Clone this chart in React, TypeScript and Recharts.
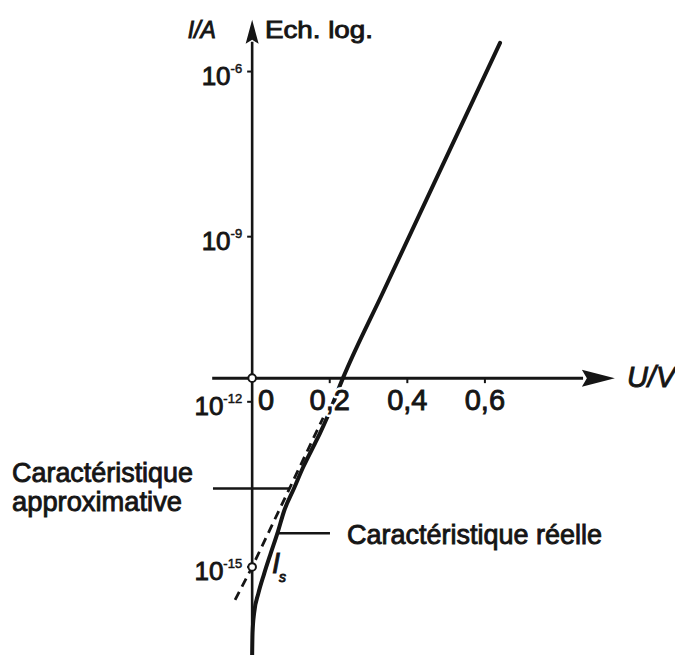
import { ComposedChart, Line, Scatter, XAxis, YAxis } from "recharts";

// Diode characteristic, U in volts, current as log10(I / A)
const realU = [0.0, 0.001, 0.005, 0.016, 0.031, 0.048, 0.065, 0.083, 0.108, 0.132, 0.153, 0.175, 0.196, 0.234, 0.338, 0.471, 0.571, 0.639];
const realLogI = [-16.6, -16.2, -15.84, -15.48, -15.12, -14.75, -14.39, -13.97, -13.57, -13.18, -12.88, -12.57, -12.24, -11.57, -10.0, -8.0, -6.5, -5.48];

// straight-line approximation I = Is * exp(U / nUT)
const approxU = [-0.044, 0, 0.183];
const approxLogI = [-15.6, -15, -12.29];

const uTicks = [0, 0.2, 0.4, 0.6];
const uTickLabels = ["0", "0,2", "0,4", "0,6"];
const iDecades = [-6, -9, -12, -15];
const iDecadeLabels = ["-6", "-9", "-12", "-15"];

const IS_LOG = -15; // Is = 1e-15 A
const U_AXIS_AT = -11.57; // current level where the U axis is drawn

const U_DOMAIN: [number, number] = [-0.65, 1.09];
const I_DOMAIN: [number, number] = [-16.6, -4.7];

const zip = (us: number[], ls: number[]) => us.map((u, i) => ({ u, l: ls[i] }));
const real = zip(realU, realLogI);
const approx = zip(approxU, approxLogI);

// axes with arrow heads
const iAxis = [{ u: 0, l: I_DOMAIN[0] }, { u: 0, l: -5.46 }];
const iArrow = [{ u: 0, l: -5.06 }];
const uAxis = [{ u: -0.103, l: U_AXIS_AT }, { u: 0.853, l: U_AXIS_AT }];
const uArrow = [{ u: 0.935, l: U_AXIS_AT }];

const uTickData = uTicks.map((u, i) => ({ u, l: U_AXIS_AT, label: uTickLabels[i] }));
const iTickData = iDecades.map((l, i) => ({ u: 0, l, label: iDecadeLabels[i] }));

// leader lines for the two captions
const approxLeader = [{ u: -0.101, l: -13.575 }, { u: 0.097, l: -13.575 }];
const realLeader = [{ u: 0.065, l: -14.39 }, { u: 0.2006, l: -14.39 }];

const FONT = "'Liberation Sans', Arial, Helvetica, sans-serif";
const INK = "#151515";

const textStyle = { fontFamily: FONT, fill: INK, stroke: INK, strokeWidth: 0.9 };

const ArrowUp = ({ cx, cy }: any) => (
  <polygon points={`${cx},${cy} ${cx + 6.5},${cy + 24} ${cx},${cy + 20} ${cx - 6.5},${cy + 24}`} fill={INK} />
);

const ArrowRight = ({ cx, cy }: any) => (
  <polygon points={`${cx},${cy} ${cx - 33},${cy - 8.5} ${cx - 28},${cy} ${cx - 33},${cy + 8.5}`} fill={INK} />
);

const UTick = ({ cx, cy, payload }: any) => {
  const zero = payload.u === 0;
  const x = zero ? cx + 14 : cx;
  return (
    <g>
      {!zero && <line x1={cx} y1={cy} x2={cx} y2={cy + 5} stroke={INK} strokeWidth={2} />}
      <text x={x} y={cy + 32} textAnchor="middle" fontSize={29} fontFamily={FONT}
        fill="#fff" stroke="#fff" strokeWidth={6} strokeLinejoin="round">{payload.label}</text>
      <text x={x} y={cy + 32} textAnchor="middle" fontSize={29} {...textStyle}>{payload.label}</text>
    </g>
  );
};

const ITick = ({ cx, cy, payload }: any) => (
  <g>
    <line x1={cx - 5} y1={cy} x2={cx} y2={cy} stroke={INK} strokeWidth={2} />
    <text x={cx - 10} y={cy + 13} textAnchor="end" {...textStyle}>
      <tspan fontSize={26}>10</tspan>
      <tspan fontSize={13} dy={-12} strokeWidth={0.5}>{payload.label}</tspan>
    </text>
  </g>
);

const SmallRing = ({ cx, cy }: any) => (
  <circle cx={cx} cy={cy} r={3.8} fill="#fff" stroke={INK} strokeWidth={2} />
);

const note = (render: (cx: number, cy: number) => any) => ({ cx, cy }: any) => render(cx, cy);

export default function App() {
  return (
    <div style={{ width: 675, height: 655, background: "#fff" }}>
      <style>{"body{margin:0}"}</style>
      <ComposedChart width={675} height={655} margin={{ top: 0, right: 0, bottom: 0, left: 0 }}>
        <XAxis type="number" dataKey="u" domain={U_DOMAIN} allowDataOverflow hide />
        <YAxis type="number" dataKey="l" domain={I_DOMAIN} allowDataOverflow hide />

        <Line data={iAxis} dataKey="l" stroke={INK} strokeWidth={2.6} dot={false} activeDot={false} isAnimationActive={false} />
        <Line data={uAxis} dataKey="l" stroke={INK} strokeWidth={3} dot={false} activeDot={false} isAnimationActive={false} />
        <Scatter data={iArrow} dataKey="l" shape={ArrowUp} isAnimationActive={false} />
        <Scatter data={uArrow} dataKey="l" shape={ArrowRight} isAnimationActive={false} />
        <Scatter data={iTickData} dataKey="l" shape={ITick} isAnimationActive={false} />

        <Line data={approxLeader} dataKey="l" stroke={INK} strokeWidth={2.5} dot={false} activeDot={false} isAnimationActive={false} />
        <Line data={realLeader} dataKey="l" stroke={INK} strokeWidth={2.5} dot={false} activeDot={false} isAnimationActive={false} />

        <Line data={approx} dataKey="l" type="linear" stroke={INK} strokeWidth={2.8} strokeDasharray="9 6"
          dot={false} activeDot={false} isAnimationActive={false} />
        <Line data={real} dataKey="l" type="monotone" stroke={INK} strokeWidth={4} strokeLinecap="round"
          dot={false} activeDot={false} isAnimationActive={false} />

        <Scatter data={uTickData} dataKey="l" shape={UTick} isAnimationActive={false} />
        <Scatter data={[{ u: 0, l: U_AXIS_AT }]} dataKey="l" shape={SmallRing} isAnimationActive={false} />
        <Scatter data={[{ u: 0, l: IS_LOG }]} dataKey="l" shape={SmallRing} isAnimationActive={false} />

        <Scatter data={[{ u: -0.0933, l: -5.39 }]} dataKey="l" isAnimationActive={false}
          shape={note((x, y) => (
            <text x={x} y={y} textAnchor="end" fontSize={23} fontStyle="italic" {...textStyle}>I/A</text>
          ))} />
        <Scatter data={[{ u: 0.033, l: -5.39 }]} dataKey="l" isAnimationActive={false}
          shape={note((x, y) => (
            <text x={x} y={y} fontSize={24} textLength={108} lengthAdjust="spacingAndGlyphs" {...textStyle}>Ech. log.</text>
          ))} />
        <Scatter data={[{ u: 0.966, l: -11.73 }]} dataKey="l" isAnimationActive={false}
          shape={note((x, y) => (
            <text x={x} y={y} fontSize={29} fontStyle="italic" {...textStyle}>U/V</text>
          ))} />
        <Scatter data={[{ u: -0.619, l: -13.457 }]} dataKey="l" isAnimationActive={false}
          shape={note((x, y) => (
            <g>
              <text x={x} y={y} fontSize={28} textLength={181} lengthAdjust="spacingAndGlyphs" {...textStyle}>Caractéristique</text>
              <text x={x} y={y + 29} fontSize={28} textLength={170} lengthAdjust="spacingAndGlyphs" {...textStyle}>approximative</text>
            </g>
          ))} />
        <Scatter data={[{ u: 0.2444, l: -14.584 }]} dataKey="l" isAnimationActive={false}
          shape={note((x, y) => (
            <text x={x} y={y} fontSize={28} textLength={255} lengthAdjust="spacingAndGlyphs" {...textStyle}>Caractéristique réelle</text>
          ))} />
        <Scatter data={[{ u: 0.0511, l: -15.11 }]} dataKey="l" isAnimationActive={false}
          shape={note((x, y) => (
            <text x={x} y={y} fontStyle="italic" {...textStyle}>
              <tspan fontSize={29}>I</tspan>
              <tspan fontSize={14} dy={9} dx={-1}>s</tspan>
            </text>
          ))} />
      </ComposedChart>
    </div>
  );
}
